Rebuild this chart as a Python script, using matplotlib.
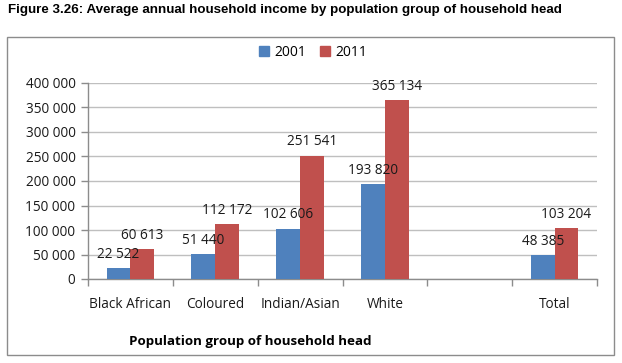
import matplotlib
matplotlib.use("Agg")
import matplotlib.pyplot as plt
from matplotlib.patches import Rectangle, Patch
from matplotlib.ticker import FuncFormatter, FixedLocator

categories = ["Black African", "Coloured", "Indian/Asian", "White", "", "Total"]
values_2001 = [22522, 51440, 102606, 193820, None, 48385]
values_2011 = [60613, 112172, 251541, 365134, None, 103204]
series_names = ["2001", "2011"]
yticks = [0, 50000, 100000, 150000, 200000, 250000, 300000, 350000, 400000]

W, H = 622, 363
fig = plt.figure(figsize=(W / 100, H / 100), dpi=100)
fig.patch.set_facecolor("white")

# chart border box
fig.add_artist(Rectangle((7 / W, 1 - 355 / H), (614 - 7) / W, (355 - 37) / H,
                         transform=fig.transFigure, fill=False,
                         edgecolor="#8c8c8c", linewidth=1.0))

fig.text(8 / W, 1 - 10 / H,
         "Figure 3.26: Average annual household income by population group of household head",
         fontfamily="Liberation Sans", fontweight="bold", fontsize=9.6,
         ha="left", va="center")

ax = fig.add_axes([88 / W, 1 - 279 / H, (597 - 88) / W, (279 - 83) / H])
blue = "#4F81BD"
red = "#C0504D"
bw = 0.28
lab_font = dict(fontfamily="Open Sans", fontsize=9.8, color="#1a1a1a")

def fmt(v):
    return f"{int(v):,}".replace(",", " ")

for i, (a, b) in enumerate(zip(values_2001, values_2011)):
    if a is not None:
        ax.bar(i - bw / 2, a, width=bw, color=blue, zorder=3)
        ax.annotate(fmt(a), (i - bw / 2, a), xytext=(0, 4.5), textcoords="offset points",
                    ha="center", va="bottom", zorder=10, **lab_font)
    if b is not None:
        ax.bar(i + bw / 2, b, width=bw, color=red, zorder=3)
        ax.annotate(fmt(b), (i + bw / 2, b), xytext=(0, 4.5), textcoords="offset points",
                    ha="center", va="bottom", zorder=10, **lab_font)

ax.set_xlim(-0.5, len(categories) - 0.5)
ax.set_ylim(0, 400000)
ax.yaxis.set_major_locator(FixedLocator(yticks))
ax.yaxis.set_major_formatter(FuncFormatter(lambda v, p: fmt(v)))
ax.grid(axis="y", color="#bfbfbf", linewidth=1.0, zorder=0)
ax.set_axisbelow(True)

ax.set_xticks(range(len(categories)))
ax.set_xticklabels(categories)
ax.set_xticks([i - 0.5 for i in range(len(categories) + 1)], minor=True)
ax.tick_params(axis="x", which="major", length=0, pad=13)
ax.tick_params(axis="x", which="minor", length=5, color="#8c8c8c", width=1)
ax.tick_params(axis="y", length=5, color="#8c8c8c", width=1, pad=4)
for lbl in ax.get_xticklabels() + ax.get_yticklabels():
    lbl.set_fontfamily("Open Sans")
    lbl.set_fontsize(9.8)
    lbl.set_color("#1a1a1a")

for s in ["top", "right"]:
    ax.spines[s].set_visible(False)
for s in ["left", "bottom"]:
    ax.spines[s].set_color("#8c8c8c")
    ax.spines[s].set_linewidth(1)

# legend
handles = [Patch(color=blue, label=series_names[0]), Patch(color=red, label=series_names[1])]
fig.legend(handles=handles, loc="center", bbox_to_anchor=(313 / W, 1 - 52 / H),
           ncol=2, frameon=False, handlelength=0.7, handleheight=0.7,
           handletextpad=0.4, columnspacing=1.0,
           prop=dict(family="Open Sans", size=10))

fig.text(250 / W, 1 - 342 / H, "Population group of household head",
         fontfamily="Open Sans", fontweight="bold", fontsize=9.6,
         ha="center", va="center")

fig.savefig("out.png", dpi=100, facecolor="white")
